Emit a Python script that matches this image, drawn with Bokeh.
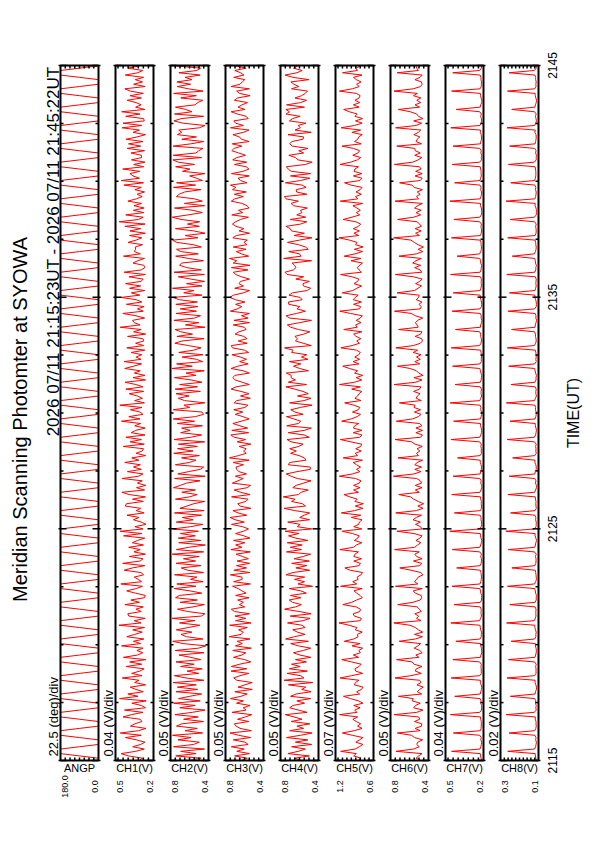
import math
import numpy as np
from bokeh.plotting import figure
from bokeh.models import Range1d
from bokeh.core.properties import value
from bokeh.embed import file_html
from bokeh.resources import INLINE

TITLE = "Meridian Scanning Photomter at SYOWA"
PERIOD = "2026 07/11 21:15:23UT - 2026 07/11 21:45:22UT"
T_START_S = 21 * 3600 + 15 * 60 + 23     # 21:15:23
T_END_S = 21 * 3600 + 45 * 60 + 22       # 21:45:22
AXIS_MIN = [0, 30]                       # time axis, minutes from start
TIME_TICKS = [0, 10, 20, 30]
TIME_TICK_LABELS = ["2115", "2125", "2135", "2145"]
TIME_MINOR = [2.5, 5, 7.5, 12.5, 15, 17.5, 22.5, 25, 27.5]
TIME_LABEL = "TIME(UT)"

NAMES = ["ANGP", "CH1(V)", "CH2(V)", "CH3(V)", "CH4(V)", "CH5(V)", "CH6(V)", "CH7(V)", "CH8(V)"]
LOWS = [0.0, 0.2, 0.4, 0.4, 0.4, 0.6, 0.4, 0.2, 0.1]
HIGHS = [180.0, 0.5, 0.8, 0.8, 0.8, 1.2, 0.8, 0.5, 0.3]
STEPS = [22.5, 0.04, 0.05, 0.05, 0.05, 0.07, 0.05, 0.04, 0.02]
SCALES = ["22.5 (deg)/div", "0.04 (V)/div", "0.05 (V)/div", "0.05 (V)/div", "0.05 (V)/div",
          "0.07 (V)/div", "0.05 (V)/div", "0.04 (V)/div", "0.02 (V)/div"]

ANGP = [
    0.0, 0.0, 90.0, 180.0, 180.0, 180.0, 90.0, 0.0,  0.0, 0.0, 90.0, 180.0, 180.0, 180.0, 90.0, 0.0,
    0.0, 0.0, 90.0, 180.0, 180.0, 180.0, 90.0, 0.0,  0.0, 0.0, 90.0, 180.0, 180.0, 180.0, 90.0, 0.0,
    0.0, 0.0, 90.0, 180.0, 180.0, 180.0, 90.0, 0.0,  0.0, 0.0, 90.0, 180.0, 180.0, 180.0, 90.0, 0.0,
    0.0, 0.0, 90.0, 180.0, 180.0, 180.0, 90.0, 0.0,  0.0, 0.0, 90.0, 180.0, 180.0, 180.0, 90.0, 0.0,
    0.0, 0.0, 90.0, 180.0, 180.0, 180.0, 90.0, 0.0,  0.0, 0.0, 90.0, 180.0, 180.0, 180.0, 90.0, 0.0,
    0.0, 0.0, 90.0, 180.0, 180.0, 180.0, 90.0, 0.0,  0.0, 0.0, 90.0, 180.0, 180.0, 180.0, 90.0, 0.0,
    0.0, 0.0, 90.0, 180.0, 180.0, 180.0, 90.0, 0.0,  0.0, 0.0, 90.0, 180.0, 180.0, 180.0, 90.0, 0.0,
    0.0, 0.0, 90.0, 180.0, 180.0, 180.0, 90.0, 0.0,  0.0, 0.0, 90.0, 180.0, 180.0, 180.0, 90.0, 0.0,
    0.0, 0.0, 90.0, 180.0, 180.0, 180.0, 90.0, 0.0,  0.0, 0.0, 90.0, 180.0, 180.0, 180.0, 90.0, 0.0,
    0.0, 0.0, 90.0, 180.0, 180.0, 180.0, 90.0, 0.0,  0.0, 0.0, 90.0, 180.0, 180.0, 180.0, 90.0, 0.0,
    0.0, 0.0, 90.0, 180.0, 180.0, 180.0, 90.0, 0.0,  0.0, 0.0, 90.0, 180.0, 180.0, 180.0, 90.0, 0.0,
    0.0, 0.0, 90.0, 180.0, 180.0, 180.0, 90.0, 0.0,  0.0, 0.0, 90.0, 180.0, 180.0, 180.0, 90.0, 0.0,
    0.0, 0.0, 90.0, 180.0, 180.0, 180.0, 90.0, 0.0,  0.0, 0.0, 90.0, 180.0, 180.0, 180.0, 90.0, 0.0,
    0.0, 0.0, 90.0, 180.0, 180.0, 180.0, 90.0, 0.0,  0.0, 0.0, 90.0, 180.0, 180.0, 180.0, 90.0, 0.0,
    0.0, 0.0, 90.0, 180.0, 180.0, 180.0, 90.0, 0.0,  0.0, 0.0, 90.0, 180.0, 180.0, 180.0, 90.0, 0.0,
    0.0, 0.0, 90.0, 180.0, 180.0, 180.0, 90.0, 0.0,  0.0, 0.0, 90.0, 180.0, 180.0, 180.0, 90.0, 0.0,
    0.0, 0.0, 90.0, 180.0, 180.0, 180.0, 90.0, 0.0,  0.0, 0.0, 90.0, 180.0, 180.0, 180.0, 90.0, 0.0,
    0.0, 0.0, 90.0, 180.0, 180.0, 180.0, 90.0, 0.0,  0.0, 0.0, 90.0, 180.0, 180.0, 180.0, 90.0, 0.0,
    0.0, 0.0, 90.0, 180.0, 180.0, 180.0, 90.0, 0.0,  0.0, 0.0, 90.0, 180.0, 180.0, 180.0, 90.0, 0.0,
]

CH1 = [
    0.312, 0.287, 0.398, 0.456, 0.341, 0.273, 0.364, 0.301,  0.268, 0.335, 0.421, 0.297, 0.462, 0.318, 0.259, 0.382,
    0.347, 0.292, 0.305, 0.441, 0.376, 0.284, 0.429, 0.263,  0.296, 0.371, 0.258, 0.468, 0.322, 0.403, 0.281, 0.339,
    0.384, 0.262, 0.349, 0.315, 0.447, 0.291, 0.372, 0.308,  0.274, 0.416, 0.293, 0.388, 0.261, 0.437, 0.327, 0.285,
    0.331, 0.283, 0.452, 0.302, 0.359, 0.276, 0.411, 0.349,  0.289, 0.364, 0.271, 0.473, 0.298, 0.352, 0.266, 0.395,
    0.403, 0.297, 0.338, 0.281, 0.426, 0.311, 0.379, 0.272,  0.265, 0.343, 0.412, 0.336, 0.287, 0.458, 0.294, 0.321,
    0.352, 0.278, 0.299, 0.431, 0.367, 0.269, 0.443, 0.306,  0.283, 0.391, 0.264, 0.354, 0.305, 0.396, 0.279, 0.368,
    0.326, 0.269, 0.437, 0.292, 0.464, 0.283, 0.347, 0.259,  0.297, 0.358, 0.315, 0.409, 0.274, 0.337, 0.302, 0.423,
    0.414, 0.281, 0.366, 0.263, 0.392, 0.449, 0.271, 0.334,  0.261, 0.327, 0.289, 0.448, 0.319, 0.283, 0.406, 0.297,
    0.358, 0.304, 0.427, 0.316, 0.371, 0.262, 0.338, 0.289,  0.279, 0.439, 0.273, 0.385, 0.296, 0.418, 0.267, 0.376,
    0.341, 0.266, 0.348, 0.302, 0.453, 0.307, 0.395, 0.284,  0.306, 0.382, 0.291, 0.466, 0.272, 0.349, 0.288, 0.327,
    0.392, 0.277, 0.418, 0.283, 0.339, 0.424, 0.263, 0.361,  0.268, 0.351, 0.305, 0.427, 0.358, 0.294, 0.432, 0.299,
    0.337, 0.293, 0.376, 0.269, 0.411, 0.278, 0.341, 0.276,  0.284, 0.405, 0.262, 0.357, 0.298, 0.463, 0.306, 0.353,
    0.365, 0.271, 0.339, 0.442, 0.281, 0.327, 0.274, 0.414,  0.292, 0.336, 0.457, 0.308, 0.375, 0.269, 0.389, 0.302,
    0.421, 0.298, 0.282, 0.394, 0.264, 0.432, 0.297, 0.268,  0.276, 0.362, 0.325, 0.271, 0.437, 0.304, 0.352, 0.341,
    0.344, 0.287, 0.401, 0.338, 0.293, 0.389, 0.265, 0.386,  0.301, 0.426, 0.267, 0.471, 0.318, 0.282, 0.419, 0.277,
    0.359, 0.274, 0.354, 0.295, 0.402, 0.336, 0.289, 0.329,  0.271, 0.347, 0.296, 0.434, 0.279, 0.455, 0.311, 0.362,
    0.386, 0.309, 0.443, 0.277, 0.356, 0.268, 0.374, 0.294,  0.295, 0.378, 0.271, 0.408, 0.301, 0.397, 0.283, 0.416,
    0.331, 0.263, 0.362, 0.312, 0.448, 0.292, 0.441, 0.273,  0.278, 0.419, 0.307, 0.451, 0.269, 0.341, 0.298, 0.338,
    0.408, 0.296, 0.385, 0.281, 0.383, 0.426, 0.266, 0.357,  0.287, 0.344, 0.278, 0.423, 0.324, 0.285, 0.402, 0.311,
]

CH2 = [
    0.612, 0.478, 0.745, 0.531, 0.693, 0.442, 0.768, 0.556,  0.497, 0.721, 0.584, 0.779, 0.462, 0.648, 0.519, 0.737,
    0.683, 0.453, 0.662, 0.508, 0.754, 0.571, 0.436, 0.702,  0.541, 0.766, 0.487, 0.716, 0.598, 0.472, 0.741, 0.514,
    0.728, 0.529, 0.772, 0.449, 0.637, 0.759, 0.503, 0.626,  0.466, 0.694, 0.551, 0.742, 0.483, 0.587, 0.711, 0.448,
    0.751, 0.506, 0.428, 0.668, 0.776, 0.459, 0.632, 0.689,  0.574, 0.739, 0.613, 0.491, 0.705, 0.544, 0.783, 0.476,
    0.438, 0.622, 0.727, 0.563, 0.444, 0.698, 0.518, 0.747,  0.707, 0.471, 0.596, 0.761, 0.532, 0.733, 0.457, 0.589,
    0.523, 0.757, 0.453, 0.619, 0.687, 0.481, 0.742, 0.536,  0.664, 0.498, 0.781, 0.452, 0.738, 0.609, 0.434, 0.713,
    0.482, 0.718, 0.539, 0.695, 0.507, 0.774, 0.587, 0.461,  0.739, 0.562, 0.676, 0.473, 0.758, 0.446, 0.701, 0.627,
    0.556, 0.441, 0.748, 0.601, 0.519, 0.681, 0.538, 0.769,  0.697, 0.631, 0.489, 0.757, 0.436, 0.723, 0.612, 0.487,
    0.451, 0.749, 0.603, 0.532, 0.684, 0.497, 0.765, 0.562,  0.726, 0.518, 0.717, 0.441, 0.762, 0.586, 0.473, 0.693,
    0.593, 0.682, 0.464, 0.729, 0.547, 0.771, 0.539, 0.452,  0.468, 0.771, 0.598, 0.658, 0.439, 0.652, 0.719, 0.604,
    0.742, 0.486, 0.751, 0.517, 0.703, 0.468, 0.584, 0.758,  0.531, 0.637, 0.445, 0.784, 0.571, 0.736, 0.462, 0.527,
    0.678, 0.459, 0.713, 0.556, 0.479, 0.611, 0.754, 0.681,  0.447, 0.733, 0.569, 0.691, 0.752, 0.438, 0.643, 0.502,
    0.764, 0.548, 0.484, 0.742, 0.527, 0.697, 0.511, 0.744,  0.518, 0.706, 0.776, 0.469, 0.661, 0.552, 0.779, 0.468,
    0.631, 0.442, 0.587, 0.718, 0.443, 0.763, 0.476, 0.629,  0.705, 0.683, 0.453, 0.609, 0.746, 0.508, 0.692, 0.737,
    0.476, 0.561, 0.734, 0.779, 0.512, 0.645, 0.437, 0.553,  0.748, 0.497, 0.622, 0.493, 0.689, 0.781, 0.615, 0.466,
    0.563, 0.758, 0.441, 0.654, 0.465, 0.549, 0.738, 0.709,  0.652, 0.481, 0.769, 0.537, 0.736, 0.463, 0.528, 0.598,
    0.439, 0.674, 0.596, 0.746, 0.548, 0.719, 0.775, 0.472,  0.771, 0.533, 0.502, 0.458, 0.772, 0.587, 0.451, 0.681,
    0.527, 0.727, 0.683, 0.713, 0.496, 0.437, 0.667, 0.764,  0.689, 0.452, 0.758, 0.574, 0.641, 0.748, 0.542, 0.513,
    0.461, 0.692, 0.529, 0.767, 0.458, 0.612, 0.729, 0.589,  0.733, 0.574, 0.647, 0.488, 0.712, 0.524, 0.483, 0.742,
]

CH3 = [
    0.632, 0.571, 0.704, 0.548, 0.681, 0.603, 0.739, 0.562,  0.594, 0.718, 0.537, 0.662, 0.752, 0.528, 0.647, 0.689,
    0.707, 0.556, 0.673, 0.591, 0.524, 0.731, 0.583, 0.614,  0.541, 0.684, 0.612, 0.748, 0.637, 0.572, 0.702, 0.519,
    0.668, 0.597, 0.519, 0.681, 0.713, 0.649, 0.556, 0.742,  0.576, 0.739, 0.651, 0.534, 0.598, 0.716, 0.628, 0.587,
    0.724, 0.529, 0.696, 0.623, 0.677, 0.543, 0.761, 0.636,  0.613, 0.662, 0.571, 0.756, 0.531, 0.694, 0.587, 0.701,
    0.548, 0.706, 0.739, 0.598, 0.654, 0.611, 0.672, 0.553,  0.693, 0.583, 0.627, 0.667, 0.726, 0.538, 0.714, 0.624,
    0.627, 0.749, 0.544, 0.712, 0.579, 0.684, 0.546, 0.678,  0.559, 0.621, 0.688, 0.539, 0.743, 0.627, 0.693, 0.596,
    0.716, 0.543, 0.607, 0.694, 0.612, 0.558, 0.621, 0.737,  0.602, 0.698, 0.752, 0.577, 0.668, 0.722, 0.534, 0.649,
    0.671, 0.586, 0.563, 0.736, 0.541, 0.641, 0.709, 0.571,  0.537, 0.728, 0.669, 0.613, 0.697, 0.579, 0.658, 0.684,
    0.689, 0.611, 0.721, 0.552, 0.758, 0.663, 0.582, 0.611,  0.582, 0.657, 0.534, 0.677, 0.589, 0.708, 0.744, 0.557,
    0.734, 0.567, 0.648, 0.723, 0.634, 0.551, 0.617, 0.698,  0.619, 0.713, 0.596, 0.564, 0.708, 0.683, 0.539, 0.642,
    0.553, 0.637, 0.741, 0.689, 0.549, 0.624, 0.698, 0.723,  0.702, 0.549, 0.614, 0.742, 0.671, 0.562, 0.651, 0.579,
    0.644, 0.732, 0.557, 0.601, 0.727, 0.739, 0.572, 0.666,  0.573, 0.608, 0.699, 0.658, 0.583, 0.604, 0.719, 0.547,
    0.711, 0.562, 0.631, 0.549, 0.749, 0.677, 0.628, 0.694,  0.596, 0.694, 0.756, 0.716, 0.613, 0.546, 0.703, 0.612,
    0.658, 0.641, 0.548, 0.632, 0.694, 0.717, 0.563, 0.738,  0.542, 0.719, 0.682, 0.759, 0.557, 0.632, 0.687, 0.584,
    0.719, 0.574, 0.606, 0.571, 0.723, 0.686, 0.547, 0.657,  0.607, 0.689, 0.727, 0.694, 0.642, 0.559, 0.734, 0.619,
    0.664, 0.553, 0.574, 0.627, 0.739, 0.703, 0.612, 0.707,  0.581, 0.727, 0.692, 0.748, 0.574, 0.641, 0.668, 0.551,
    0.737, 0.616, 0.553, 0.583, 0.706, 0.577, 0.724, 0.681,  0.589, 0.661, 0.734, 0.709, 0.628, 0.729, 0.552, 0.632,
    0.653, 0.722, 0.611, 0.553, 0.747, 0.612, 0.693, 0.713,  0.561, 0.582, 0.676, 0.741, 0.596, 0.668, 0.627, 0.568,
    0.706, 0.674, 0.541, 0.652, 0.683, 0.549, 0.741, 0.647,  0.624, 0.597, 0.713, 0.606, 0.641, 0.702, 0.584, 0.691,
]

CH4 = [
    0.581, 0.652, 0.497, 0.721, 0.614, 0.538, 0.683, 0.472,  0.643, 0.512, 0.736, 0.589, 0.468, 0.704, 0.557, 0.627,
    0.492, 0.687, 0.573, 0.658, 0.749, 0.521, 0.612, 0.703,  0.668, 0.547, 0.628, 0.483, 0.694, 0.636, 0.478, 0.576,
    0.534, 0.716, 0.461, 0.762, 0.553, 0.589, 0.731, 0.518,  0.707, 0.593, 0.684, 0.527, 0.643, 0.482, 0.596, 0.664,
    0.559, 0.482, 0.612, 0.693, 0.507, 0.747, 0.653, 0.541,  0.623, 0.671, 0.541, 0.574, 0.726, 0.562, 0.489, 0.698,
    0.478, 0.604, 0.757, 0.642, 0.581, 0.673, 0.709, 0.586,  0.695, 0.528, 0.587, 0.709, 0.463, 0.616, 0.547, 0.652,
    0.546, 0.742, 0.669, 0.493, 0.638, 0.524, 0.682, 0.497,  0.657, 0.561, 0.483, 0.737, 0.579, 0.697, 0.571, 0.729,
    0.512, 0.639, 0.716, 0.607, 0.752, 0.471, 0.624, 0.593,  0.724, 0.494, 0.598, 0.551, 0.493, 0.648, 0.763, 0.537,
    0.569, 0.683, 0.647, 0.771, 0.612, 0.583, 0.508, 0.671,  0.636, 0.557, 0.479, 0.624, 0.688, 0.739, 0.627, 0.486,
    0.487, 0.718, 0.703, 0.532, 0.549, 0.604, 0.694, 0.633,  0.703, 0.608, 0.562, 0.689, 0.731, 0.498, 0.551, 0.719,
    0.551, 0.476, 0.734, 0.613, 0.587, 0.661, 0.737, 0.562,  0.648, 0.692, 0.591, 0.468, 0.704, 0.553, 0.479, 0.621,
    0.508, 0.563, 0.652, 0.743, 0.526, 0.718, 0.643, 0.689,  0.687, 0.739, 0.506, 0.598, 0.663, 0.587, 0.706, 0.511,
    0.579, 0.524, 0.683, 0.669, 0.757, 0.476, 0.561, 0.642,  0.621, 0.649, 0.557, 0.491, 0.611, 0.692, 0.728, 0.598,
    0.474, 0.706, 0.741, 0.632, 0.538, 0.627, 0.597, 0.713,  0.716, 0.572, 0.594, 0.711, 0.674, 0.519, 0.482, 0.559,
    0.563, 0.497, 0.638, 0.557, 0.729, 0.753, 0.664, 0.637,  0.652, 0.678, 0.473, 0.766, 0.583, 0.601, 0.713, 0.508,
    0.537, 0.611, 0.726, 0.602, 0.469, 0.658, 0.549, 0.684,  0.698, 0.743, 0.589, 0.524, 0.697, 0.534, 0.629, 0.576,
    0.589, 0.518, 0.662, 0.689, 0.612, 0.742, 0.758, 0.523,  0.631, 0.634, 0.531, 0.573, 0.748, 0.589, 0.491, 0.695,
    0.483, 0.687, 0.719, 0.738, 0.539, 0.467, 0.617, 0.642,  0.712, 0.556, 0.608, 0.511, 0.676, 0.703, 0.681, 0.564,
    0.556, 0.721, 0.477, 0.647, 0.591, 0.614, 0.532, 0.707,  0.673, 0.593, 0.741, 0.706, 0.743, 0.548, 0.736, 0.587,
    0.526, 0.648, 0.579, 0.539, 0.516, 0.684, 0.608, 0.659,  0.691, 0.502, 0.668, 0.752, 0.627, 0.572, 0.663, 0.619,
]

CH5 = [
    0.842, 0.796, 0.913, 0.871, 1.118, 0.889, 0.824, 0.768,  0.879, 0.821, 0.768, 0.934, 1.092, 0.905, 0.781, 0.853,
    0.803, 0.874, 0.926, 0.851, 1.136, 0.862, 0.897, 0.812,  0.912, 0.768, 0.837, 0.962, 1.074, 0.818, 0.866, 0.789,
    0.765, 0.903, 0.884, 0.829, 1.127, 0.947, 0.772, 0.881,  0.894, 0.829, 0.795, 0.947, 1.101, 0.836, 0.918, 0.807,
    0.831, 0.772, 0.938, 0.811, 1.061, 0.912, 0.843, 0.856,  0.778, 0.887, 0.862, 0.985, 1.145, 0.809, 0.791, 0.902,
    0.921, 0.814, 0.807, 0.874, 1.085, 0.944, 0.867, 0.776,  0.812, 0.865, 0.909, 0.779, 1.119, 0.865, 0.928, 0.843,
    0.859, 0.798, 0.772, 0.968, 1.052, 0.828, 0.807, 0.912,  0.789, 0.912, 0.893, 0.838, 1.131, 0.917, 0.871, 0.785,
    0.903, 0.847, 0.826, 0.931, 1.096, 0.784, 0.913, 0.834,  0.824, 0.781, 0.951, 0.802, 1.108, 0.896, 0.769, 0.887,
    0.761, 0.893, 0.857, 0.976, 1.067, 0.838, 0.914, 0.812,  0.915, 0.826, 0.798, 0.882, 1.139, 0.933, 0.815, 0.868,
    0.805, 0.869, 0.921, 0.775, 1.078, 0.852, 0.889, 0.794,  0.881, 0.803, 0.786, 0.958, 1.122, 0.817, 0.781, 0.921,
    0.782, 0.917, 0.897, 0.833, 1.103, 0.953, 0.858, 0.806,  0.932, 0.842, 0.815, 0.911, 1.055, 0.799, 0.894, 0.851,
    0.829, 0.786, 0.944, 0.807, 1.137, 0.901, 0.786, 0.873,  0.771, 0.898, 0.853, 0.981, 1.086, 0.831, 0.921, 0.819,
    0.896, 0.834, 0.808, 0.868, 1.115, 0.938, 0.822, 0.864,  0.801, 0.876, 0.914, 0.784, 1.069, 0.857, 0.882, 0.797,
    0.872, 0.809, 0.777, 0.963, 1.132, 0.822, 0.803, 0.916,  0.791, 0.921, 0.889, 0.842, 1.093, 0.926, 0.864, 0.788,
    0.908, 0.851, 0.829, 0.937, 1.119, 0.791, 0.828, 0.857,  0.818, 0.774, 0.956, 0.799, 1.063, 0.893, 0.773, 0.902,
    0.764, 0.884, 0.861, 0.979, 1.146, 0.835, 0.909, 0.823,  0.919, 0.837, 0.803, 0.879, 1.081, 0.941, 0.818, 0.871,
    0.808, 0.862, 0.925, 0.772, 1.124, 0.849, 0.885, 0.792,  0.877, 0.812, 0.781, 0.955, 1.057, 0.813, 0.784, 0.917,
    0.785, 0.908, 0.894, 0.836, 1.128, 0.961, 0.855, 0.801,  0.927, 0.846, 0.819, 0.915, 1.098, 0.795, 0.899, 0.848,
    0.834, 0.779, 0.941, 0.804, 1.111, 0.904, 0.779, 0.884,  0.774, 0.893, 0.858, 0.983, 1.071, 0.828, 0.918, 0.816,
    0.893, 0.828, 0.811, 0.871, 1.138, 0.935, 0.825, 0.867,  0.797, 0.871, 0.917, 0.781, 1.089, 0.854, 0.879, 0.803,
]

CH6 = [
    0.482, 0.531, 0.503, 0.468, 0.742, 0.556, 0.497, 0.524,  0.513, 0.462, 0.546, 0.579, 0.728, 0.488, 0.541, 0.473,
    0.471, 0.548, 0.492, 0.503, 0.761, 0.524, 0.459, 0.557,  0.536, 0.487, 0.571, 0.561, 0.717, 0.472, 0.518, 0.494,
    0.455, 0.522, 0.479, 0.494, 0.753, 0.587, 0.476, 0.539,  0.528, 0.469, 0.553, 0.572, 0.736, 0.501, 0.533, 0.466,
    0.492, 0.551, 0.512, 0.483, 0.709, 0.538, 0.464, 0.548,  0.461, 0.507, 0.538, 0.596, 0.765, 0.479, 0.527, 0.503,
    0.544, 0.476, 0.497, 0.519, 0.724, 0.563, 0.488, 0.472,  0.478, 0.539, 0.561, 0.466, 0.748, 0.512, 0.547, 0.526,
    0.509, 0.458, 0.482, 0.584, 0.702, 0.491, 0.472, 0.559,  0.467, 0.526, 0.544, 0.497, 0.757, 0.546, 0.515, 0.481,
    0.532, 0.491, 0.468, 0.553, 0.733, 0.468, 0.484, 0.537,  0.486, 0.563, 0.529, 0.474, 0.745, 0.529, 0.458, 0.512,
    0.451, 0.508, 0.557, 0.588, 0.713, 0.497, 0.539, 0.469,  0.539, 0.473, 0.486, 0.524, 0.769, 0.552, 0.481, 0.544,
    0.474, 0.545, 0.518, 0.462, 0.721, 0.505, 0.526, 0.491,  0.521, 0.466, 0.542, 0.576, 0.751, 0.483, 0.463, 0.533,
    0.463, 0.532, 0.471, 0.492, 0.738, 0.569, 0.507, 0.478,  0.548, 0.484, 0.553, 0.541, 0.706, 0.476, 0.529, 0.517,
    0.489, 0.557, 0.496, 0.479, 0.762, 0.534, 0.468, 0.552,  0.457, 0.503, 0.527, 0.593, 0.727, 0.492, 0.544, 0.486,
    0.527, 0.478, 0.561, 0.514, 0.744, 0.559, 0.486, 0.463,  0.472, 0.541, 0.483, 0.469, 0.715, 0.508, 0.521, 0.538,
    0.515, 0.461, 0.538, 0.581, 0.758, 0.487, 0.476, 0.501,  0.469, 0.529, 0.504, 0.498, 0.731, 0.548, 0.511, 0.474,
    0.536, 0.493, 0.467, 0.557, 0.749, 0.471, 0.489, 0.546,  0.483, 0.566, 0.532, 0.476, 0.711, 0.527, 0.461, 0.509,
    0.454, 0.511, 0.549, 0.585, 0.766, 0.495, 0.536, 0.477,  0.541, 0.475, 0.493, 0.521, 0.725, 0.556, 0.483, 0.531,
    0.477, 0.547, 0.516, 0.465, 0.752, 0.503, 0.528, 0.488,  0.518, 0.464, 0.551, 0.573, 0.704, 0.486, 0.466, 0.542,
    0.466, 0.535, 0.478, 0.495, 0.759, 0.565, 0.509, 0.471,  0.545, 0.487, 0.539, 0.544, 0.734, 0.473, 0.531, 0.519,
    0.491, 0.554, 0.507, 0.481, 0.746, 0.531, 0.471, 0.556,  0.459, 0.506, 0.524, 0.591, 0.718, 0.494, 0.542, 0.482,
    0.524, 0.481, 0.558, 0.517, 0.763, 0.561, 0.484, 0.467,  0.475, 0.543, 0.489, 0.467, 0.729, 0.506, 0.523, 0.535,
]

CH7 = [
    0.216, 0.219, 0.223, 0.226, 0.452, 0.228, 0.221, 0.217,  0.214, 0.221, 0.218, 0.229, 0.438, 0.225, 0.219, 0.218,
    0.217, 0.218, 0.222, 0.224, 0.461, 0.230, 0.216, 0.215,  0.215, 0.222, 0.219, 0.227, 0.427, 0.226, 0.222, 0.216,
    0.213, 0.219, 0.224, 0.225, 0.455, 0.229, 0.217, 0.218,  0.218, 0.220, 0.217, 0.231, 0.442, 0.224, 0.220, 0.214,
    0.215, 0.217, 0.221, 0.223, 0.418, 0.227, 0.218, 0.217,  0.216, 0.222, 0.225, 0.228, 0.458, 0.231, 0.223, 0.216,
    0.219, 0.219, 0.218, 0.226, 0.433, 0.225, 0.216, 0.215,  0.214, 0.221, 0.223, 0.229, 0.449, 0.228, 0.221, 0.218,
    0.216, 0.218, 0.220, 0.224, 0.412, 0.226, 0.219, 0.216,  0.217, 0.222, 0.216, 0.230, 0.446, 0.229, 0.222, 0.217,
    0.213, 0.219, 0.224, 0.225, 0.466, 0.231, 0.218, 0.215,  0.216, 0.220, 0.219, 0.227, 0.430, 0.224, 0.217, 0.216,
    0.218, 0.217, 0.222, 0.223, 0.451, 0.228, 0.220, 0.214,  0.214, 0.222, 0.218, 0.229, 0.440, 0.226, 0.223, 0.217,
    0.216, 0.219, 0.225, 0.226, 0.405, 0.227, 0.216, 0.218,  0.217, 0.221, 0.217, 0.231, 0.457, 0.230, 0.221, 0.216,
    0.215, 0.218, 0.223, 0.224, 0.436, 0.225, 0.219, 0.215,  0.216, 0.222, 0.220, 0.228, 0.463, 0.229, 0.222, 0.214,
    0.219, 0.219, 0.216, 0.226, 0.425, 0.226, 0.218, 0.217,  0.214, 0.220, 0.224, 0.229, 0.444, 0.228, 0.217, 0.218,
    0.216, 0.217, 0.219, 0.223, 0.454, 0.231, 0.220, 0.216,  0.217, 0.222, 0.222, 0.230, 0.421, 0.224, 0.223, 0.215,
    0.213, 0.219, 0.218, 0.225, 0.448, 0.228, 0.216, 0.214,  0.216, 0.221, 0.225, 0.227, 0.439, 0.226, 0.221, 0.216,
    0.218, 0.218, 0.217, 0.224, 0.460, 0.227, 0.219, 0.218,  0.214, 0.222, 0.223, 0.229, 0.409, 0.230, 0.222, 0.217,
    0.216, 0.219, 0.220, 0.226, 0.453, 0.225, 0.218, 0.215,  0.217, 0.220, 0.216, 0.231, 0.434, 0.229, 0.217, 0.214,
    0.215, 0.217, 0.224, 0.223, 0.465, 0.226, 0.220, 0.216,  0.216, 0.222, 0.219, 0.228, 0.428, 0.228, 0.223, 0.217,
    0.219, 0.219, 0.222, 0.226, 0.447, 0.231, 0.216, 0.218,  0.214, 0.221, 0.218, 0.229, 0.441, 0.224, 0.221, 0.216,
    0.216, 0.218, 0.225, 0.224, 0.458, 0.228, 0.219, 0.215,  0.217, 0.222, 0.217, 0.230, 0.416, 0.226, 0.222, 0.214,
    0.213, 0.219, 0.223, 0.225, 0.452, 0.227, 0.218, 0.217,  0.216, 0.220, 0.220, 0.227, 0.443, 0.230, 0.217, 0.216,
]

CH8 = [
    0.112, 0.114, 0.116, 0.118, 0.262, 0.121, 0.115, 0.113,  0.111, 0.115, 0.113, 0.119, 0.255, 0.120, 0.114, 0.112,
    0.113, 0.113, 0.117, 0.117, 0.270, 0.122, 0.112, 0.114,  0.112, 0.116, 0.114, 0.120, 0.248, 0.118, 0.116, 0.111,
    0.110, 0.114, 0.118, 0.118, 0.266, 0.121, 0.113, 0.113,  0.113, 0.115, 0.112, 0.121, 0.258, 0.119, 0.115, 0.112,
    0.111, 0.113, 0.116, 0.117, 0.244, 0.120, 0.114, 0.114,  0.112, 0.116, 0.119, 0.119, 0.268, 0.122, 0.117, 0.113,
    0.114, 0.114, 0.113, 0.118, 0.251, 0.118, 0.112, 0.112,  0.111, 0.115, 0.117, 0.120, 0.263, 0.121, 0.115, 0.111,
    0.112, 0.113, 0.115, 0.117, 0.240, 0.119, 0.114, 0.113,  0.113, 0.116, 0.112, 0.121, 0.259, 0.120, 0.116, 0.114,
    0.110, 0.114, 0.118, 0.118, 0.272, 0.122, 0.113, 0.112,  0.112, 0.115, 0.114, 0.119, 0.247, 0.118, 0.112, 0.113,
    0.114, 0.113, 0.116, 0.117, 0.261, 0.121, 0.115, 0.111,  0.111, 0.116, 0.113, 0.120, 0.254, 0.119, 0.117, 0.112,
    0.112, 0.114, 0.119, 0.118, 0.236, 0.120, 0.112, 0.114,  0.113, 0.115, 0.112, 0.121, 0.265, 0.122, 0.115, 0.113,
    0.111, 0.113, 0.117, 0.117, 0.250, 0.118, 0.114, 0.112,  0.112, 0.116, 0.115, 0.119, 0.269, 0.121, 0.116, 0.111,
    0.114, 0.114, 0.112, 0.118, 0.245, 0.119, 0.113, 0.113,  0.111, 0.115, 0.118, 0.120, 0.257, 0.120, 0.112, 0.114,
    0.112, 0.113, 0.114, 0.117, 0.264, 0.122, 0.115, 0.112,  0.113, 0.116, 0.116, 0.121, 0.242, 0.118, 0.117, 0.113,
    0.110, 0.114, 0.113, 0.118, 0.260, 0.121, 0.112, 0.111,  0.112, 0.115, 0.119, 0.119, 0.253, 0.119, 0.115, 0.112,
    0.114, 0.113, 0.112, 0.117, 0.267, 0.120, 0.114, 0.114,  0.111, 0.116, 0.117, 0.120, 0.238, 0.122, 0.116, 0.113,
    0.112, 0.114, 0.115, 0.118, 0.262, 0.118, 0.113, 0.112,  0.113, 0.115, 0.112, 0.121, 0.249, 0.121, 0.112, 0.111,
    0.111, 0.113, 0.118, 0.117, 0.271, 0.119, 0.115, 0.113,  0.112, 0.116, 0.114, 0.119, 0.246, 0.120, 0.117, 0.114,
    0.114, 0.114, 0.116, 0.118, 0.258, 0.122, 0.112, 0.112,  0.111, 0.115, 0.113, 0.120, 0.252, 0.118, 0.115, 0.113,
    0.112, 0.113, 0.119, 0.117, 0.266, 0.121, 0.114, 0.111,  0.113, 0.116, 0.112, 0.121, 0.241, 0.119, 0.116, 0.112,
    0.110, 0.114, 0.117, 0.118, 0.263, 0.120, 0.113, 0.114,  0.112, 0.115, 0.115, 0.119, 0.255, 0.122, 0.112, 0.113,
]

SERIES = [ANGP, CH1, CH2, CH3, CH4, CH5, CH6, CH7, CH8]

# ---------------- layout (page pixels, y measured downward) ----------------
FONT = "Liberation Sans"
W, H = 594, 840
PX_TOP, PX_BOTTOM = 65, 760
PX_LEFT0, PITCH, FW = 60, 55, 38
MAJ_IN, MAJ_OUT, MIN_IN, DIV_IN = 6, 2, 3, 3

p = figure(width=W, height=H, x_range=Range1d(0, W), y_range=Range1d(0, H),
           x_axis_type=None, y_axis_type=None, min_border=0,
           output_backend="svg", toolbar_location=None)
p.outline_line_color = None
p.grid.visible = False
p.background_fill_color = "white"
p.border_fill_color = "white"


def up(py):
    """page y (downward) -> plot y (upward)"""
    return H - py


t0, t1 = AXIS_MIN
t_per_px = (t1 - t0) / (PX_BOTTOM - PX_TOP)


def time_at(py):
    return t0 + (PX_BOTTOM - py) * t_per_px


p.extra_y_ranges = {"time": Range1d(time_at(H), time_at(0))}

n_panels = len(NAMES)
xr = {}
for i in range(n_panels):
    lo, hi = LOWS[i], HIGHS[i]
    a = PX_LEFT0 + PITCH * i
    v_per_px = (lo - hi) / FW
    xr["p%d" % i] = Range1d(hi - a * v_per_px, hi + (W - a) * v_per_px)
p.extra_x_ranges = xr


def txt(x, y, text, size, angle=math.pi / 2, align="center", y_range_name="default"):
    p.text(x=x, y=y, text=text, angle=angle, y_range_name=y_range_name,
           text_font=value(FONT), text_font_size=value(size),
           text_align=align, text_baseline="middle", text_color="black")


for i in range(n_panels):
    lo, hi, step = LOWS[i], HIGHS[i], STEPS[i]
    rn = "p%d" % i
    v_per_px = (lo - hi) / FW
    vals = SERIES[i]
    t = np.linspace(0.0, (T_END_S - T_START_S) / 60.0, len(vals))
    p.line(x=vals, y=t, x_range_name=rn, y_range_name="time", line_color="#ff0000", line_width=1)

    # time ticks on both long edges
    for ticks, tin, tout in ((TIME_TICKS, MAJ_IN, MAJ_OUT), (TIME_MINOR, MIN_IN, 0)):
        n = len(ticks)
        p.segment(x0=[hi - tout * v_per_px] * n, x1=[hi + tin * v_per_px] * n, y0=ticks, y1=ticks,
                  x_range_name=rn, y_range_name="time", line_color="black", line_width=1.5)
        p.segment(x0=[lo + tout * v_per_px] * n, x1=[lo - tin * v_per_px] * n, y0=ticks, y1=ticks,
                  x_range_name=rn, y_range_name="time", line_color="black", line_width=1.5)
    # value divisions on both short edges
    divs = []
    k = 1
    while lo + k * step < hi - 1e-9:
        divs.append(lo + k * step)
        k += 1
    nd = len(divs)
    p.segment(x0=divs, x1=divs, y0=[t1] * nd, y1=[t1 - DIV_IN * t_per_px] * nd,
              x_range_name=rn, y_range_name="time", line_color="black", line_width=1.5)
    p.segment(x0=divs, x1=divs, y0=[t0] * nd, y1=[t0 + DIV_IN * t_per_px] * nd,
              x_range_name=rn, y_range_name="time", line_color="black", line_width=1.5)
    # strip frame
    p.quad(left=[hi], right=[lo], bottom=[t0], top=[t1], x_range_name=rn, y_range_name="time",
           fill_color=None, line_color="black", line_width=2)

    a = PX_LEFT0 + PITCH * i
    b = a + FW
    txt([a - 7.5], [up(756)], [SCALES[i]], "13px", align="left")
    txt([(a + b) / 2], [up(767)], [NAMES[i]], "11px", angle=0)
    txt([a + 4, b - 4], [up(786), up(786)], ["%.1f" % hi, "%.1f" % lo], "9px")

# page texts
txt([19], [up(419)], [TITLE], "20px")
txt([PX_LEFT0 - 7.5], [up(PX_TOP + 1)], [PERIOD], "17px", align="right")
last_b = PX_LEFT0 + PITCH * (n_panels - 1) + FW
txt([last_b + 14] * len(TIME_TICKS), TIME_TICKS, TIME_TICK_LABELS, "12px", y_range_name="time")
txt([last_b + 35], [up((PX_TOP + PX_BOTTOM) / 2)], [TIME_LABEL], "16px")

open("out.html", "w").write(file_html(p, INLINE))
